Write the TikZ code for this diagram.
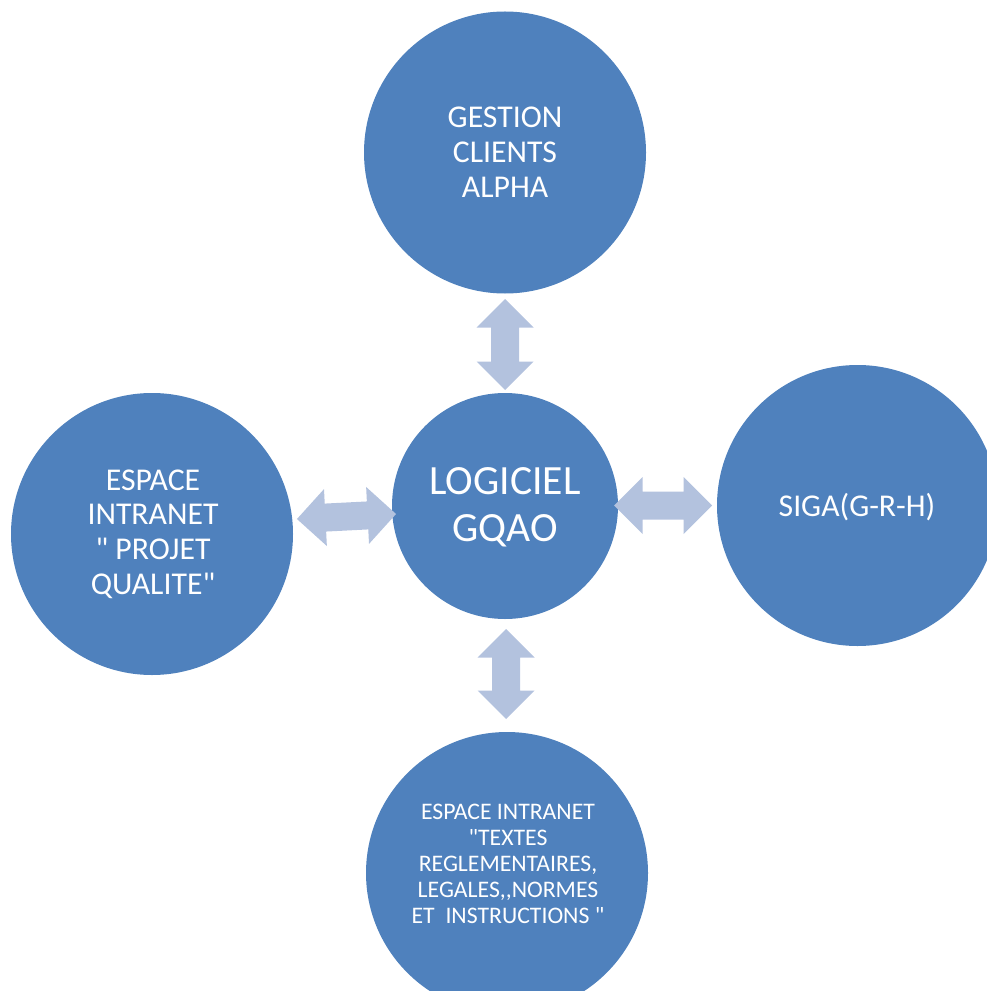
\documentclass[tikz,border=0pt]{standalone}
\usepackage{fontspec}
\setmainfont{Carlito}[Ligatures=TeXOff]
\definecolor{circblue}{HTML}{4F81BD}
\definecolor{arrowfill}{HTML}{B3C2DE}
\tikzset{
  circ/.style={circle, fill=circblue, draw=none, inner sep=0pt, outer sep=0pt},
  txt/.style={text=white, align=center, inner sep=0pt},
  bigtxt/.style={txt, font=\fontsize{23.8pt}{26.1pt}\selectfont},
  hugetxt/.style={txt, font=\fontsize{31.2pt}{35.3pt}\selectfont},
  smalltxt/.style={txt, font=\fontsize{17.8pt}{19.6pt}\selectfont},
  pics/dblarrow/.style={code={
    \fill[arrowfill] (-#1,0) -- (-#1+28.5,28.5) -- (-#1+28.5,14) -- (#1-28.5,14)
      -- (#1-28.5,28.5) -- (#1,0) -- (#1-28.5,-28.5) -- (#1-28.5,-14)
      -- (-#1+28.5,-14) -- (-#1+28.5,-28.5) -- cycle;
  }}
}
\begin{document}
\begin{tikzpicture}[x=0.75pt, y=-0.75pt]
\useasboundingbox (0,0) rectangle (987,991);
\clip (0,0) rectangle (987,991);
% circles
\node[circ, minimum size=211.5pt] (top) at (505,152.5) {};
\node[circ, minimum size=169.5pt] (center) at (505,506) {};
\node[circ, minimum size=211.5pt] (left) at (152,534) {};
\node[circ, minimum size=210.75pt] (right) at (857.5,505.5) {};
\node[circ, minimum size=211.5pt] (bottom) at (507,873) {};
% texts
\node[bigtxt] (toptext) at (505,152) {GESTION\\CLIENTS\\ALPHA};
\node[hugetxt] (centertext) at (505,507) {LOGICIEL\\GQAO};
\node[bigtxt] (lefttext) at (153,534) {ESPACE\\INTRANET\\" PROJET\\QUALITE"};
\node[bigtxt] (righttext) at (857,507) {SIGA(G-R-H)};
\node[smalltxt] (bottomtext) at (508,864) {ESPACE INTRANET\\"TEXTES\\REGLEMENTAIRES,\\LEGALES,,NORMES\\ET\ \ INSTRUCTIONS "};
% double arrows
\pic[rotate=90] at (505,344.5) {dblarrow=45.5};
\pic[rotate=90] at (506,674) {dblarrow=45};
\pic at (663,505.5) {dblarrow=49};
\pic[rotate=2.9] at (346.5,516.5) {dblarrow=49.6};
\end{tikzpicture}
\end{document}
